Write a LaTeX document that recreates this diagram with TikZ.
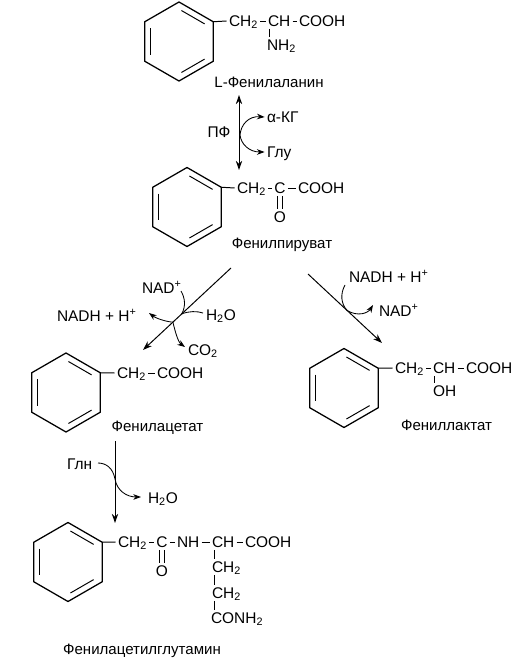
\documentclass[tikz,border=0pt]{standalone}
\usepackage{fontspec}
\setmainfont{Liberation Sans}
\usetikzlibrary{arrows.meta,positioning,shapes.geometric,calc}
\tikzset{
  bond/.style={line width=0.7pt},
  ring/.style={draw, regular polygon, regular polygon sides=6, shape border rotate=-30, minimum size=1.975cm, inner sep=0pt, outer sep=0pt, line width=0.9pt},
  chem/.style={inner sep=0pt, outer sep=1.7pt, anchor=west, xshift=-1.7pt, text height=7.9pt, text depth=0pt, font=\fontsize{11}{12}\selectfont},
  atom/.style={chem, anchor=center, xshift=1.7pt},
  caption/.style={inner sep=0pt, font=\fontsize{10.7}{12}\selectfont},
  rxn/.style={line width=0.7pt, -{Stealth[length=6.5pt,width=4.5pt]}},
  side/.style={line width=0.6pt, -{Stealth[length=5.5pt,width=4pt]}},
  sidein/.style={line width=0.6pt}
}
\newcommand{\phenyl}[2]{
  \node[ring] (#1) at (#2) {};
  \foreach \p/\q in {1/2,3/4,5/6}
    \draw[bond, shorten >=2pt, shorten <=2pt] ($(#1.center)!0.82!(#1.corner \p)$) -- ($(#1.center)!0.82!(#1.corner \q)$);
}
\newcommand{\chemsub}[1]{\textsubscript{#1}}
\begin{document}
\begin{tikzpicture}[x=0.025cm, y=-0.025cm]
  \useasboundingbox (0,0) rectangle (531,669);

  %% L-phenylalanine
  \phenyl{ringala}{179,41.5}
  \node[chem] (chtwoala) at (229,21) {CH\chemsub{2}};
  \node[chem] (chala) at (268,21) {CH};
  \node[chem] (coohala) at (299,21) {COOH};
  \node[chem] (nhala) at (267,45) {NH\chemsub{2}};
  \node[caption] (capala) at (269,82) {L-Фенилаланин};
  \draw[bond] (ringala.corner 1) -- (chtwoala.west);
  \draw[bond] (chtwoala.east) -- (chala.west);
  \draw[bond] (chala.east) -- (coohala.west);
  \draw[bond] ($(chala.south west)+(4,0)$) -- ($(nhala.north west)+(5,0)$);

  %% transamination
  \coordinate (ala) at (239,95);
  \coordinate (pyr) at (239,170);
  \coordinate (midala) at (240,135);
  \node[atom] (pf) at (219,132) {ПФ};
  \node[chem] (akg) at (267,117) {α-КГ};
  \node[chem] (glu) at (267,152) {Глу};
  \draw[rxn, {Stealth[length=6.5pt,width=4.5pt]}-{Stealth[length=6.5pt,width=4.5pt]}] (ala) -- (pyr);
  \draw[side] (midala) .. controls (241,124) and (249,116) .. (akg.west);
  \draw[side] (midala) .. controls (241,144) and (249,152) .. (glu.west);

  %% phenylpyruvate
  \phenyl{ringpyr}{187,207}
  \node[chem] (chtwopyr) at (237,188) {CH\chemsub{2}};
  \node[atom] (cpyr) at (280,188) {C};
  \node[chem] (coohpyr) at (298,188) {COOH};
  \node[atom] (opyr) at (280,217) {O};
  \node[caption] (cappyr) at (282,245) {Фенилпируват};
  \draw[bond] (ringpyr.corner 1) -- (chtwopyr.west);
  \draw[bond] (chtwopyr.east) -- (cpyr.west);
  \draw[bond] (cpyr.east) -- (coohpyr.west);
  \draw[bond, double, double distance=2.6pt, line width=0.6pt] (cpyr.south) -- (opyr.north);

  %% branch to phenylacetate
  \coordinate (leftstart) at (231,268);
  \coordinate (leftend) at (143,350);
  \coordinate (leftup) at ($(leftstart)!0.56!(leftend)$);
  \coordinate (leftdown) at ($(leftstart)!0.66!(leftend)$);
  \coordinate (leftnad) at (181,291);
  \coordinate (leftwater) at (203,313);
  \coordinate (leftnadh) at (149,313);
  \coordinate (leftco) at (185,347);
  \node[chem] (nadl) at (142,288) {NAD\textsuperscript{+}};
  \node[chem] (nadhl) at (57,316) {NADH + H\textsuperscript{+}};
  \node[chem] (waterl) at (206,315) {H\chemsub{2}O};
  \node[chem] (cotwo) at (188,350) {CO\chemsub{2}};
  \draw[rxn] (leftstart) -- (leftend);
  \draw[sidein] (leftnad) .. controls (185,298) and (186,306) .. (leftup);
  \draw[sidein] (leftwater) .. controls (197,311) and (189,311) .. (leftup);
  \draw[side] (leftdown) .. controls (168,322) and (157,319) .. (leftnadh);
  \draw[side] (leftdown) .. controls (175,331) and (178,342) .. (leftco);

  %% phenylacetate
  \phenyl{ringace}{66,392.5}
  \node[chem] (chtwoace) at (117,373) {CH\chemsub{2}};
  \node[chem] (coohace) at (157,373) {COOH};
  \node[caption] (capace) at (157.5,428) {Фенилацетат};
  \draw[bond] (ringace.corner 1) -- (chtwoace.west);
  \draw[bond] (chtwoace.east) -- (coohace.west);

  %% branch to phenyllactate
  \coordinate (rightstart) at (308,274);
  \coordinate (rightend) at (382,343);
  \coordinate (rightmid) at ($(rightstart)!0.53!(rightend)$);
  \coordinate (rightnadh) at (345,285);
  \coordinate (rightnad) at (373,305);
  \node[chem] (nadhr) at (349,277) {NADH + H\textsuperscript{+}};
  \node[chem] (nadr) at (379,311) {NAD\textsuperscript{+}};
  \draw[rxn] (rightstart) -- (rightend);
  \draw[sidein] (rightnadh) .. controls (340,294) and (341,304) .. (rightmid);
  \draw[side] (rightmid) .. controls (358,317) and (368,313) .. (rightnad);

  %% phenyllactate
  \phenyl{ringlac}{344,388}
  \node[chem] (chtwolac) at (395,368) {CH\chemsub{2}};
  \node[chem] (chlac) at (433,368) {CH};
  \node[chem] (coohlac) at (466,368) {COOH};
  \node[chem] (ohlac) at (433,391) {OH};
  \node[caption] (caplac) at (446.5,425) {Фениллактат};
  \draw[bond] (ringlac.corner 1) -- (chtwolac.west);
  \draw[bond] (chtwolac.east) -- (chlac.west);
  \draw[bond] (chlac.east) -- (coohlac.west);
  \draw[bond] ($(chlac.south west)+(4,0)$) -- ($(ohlac.north west)+(4,0)$);

  %% glutamine step
  \coordinate (glnstart) at (115,441);
  \coordinate (glnend) at (115,523);
  \coordinate (glnmid) at (115,479);
  \coordinate (glnin) at (98,463);
  \coordinate (glnout) at (141,497);
  \node[chem] (gln) at (67,464) {Глн};
  \node[chem] (waterb) at (148,498) {H\chemsub{2}O};
  \draw[rxn] (glnstart) -- (glnend);
  \draw[sidein] (glnin) .. controls (106,463) and (113,468) .. (glnmid);
  \draw[side] (glnmid) .. controls (117,491) and (127,497) .. (glnout);

  %% phenylacetylglutamine
  \phenyl{ringgln}{68,562}
  \node[chem] (chtwogln) at (118,542) {CH\chemsub{2}};
  \node[atom] (cgln) at (162,542) {C};
  \node[chem] (nhgln) at (177,542) {NH};
  \node[chem] (chgln) at (212,542) {CH};
  \node[chem] (coohgln) at (245,542) {COOH};
  \node[atom] (ogln) at (162,571) {O};
  \node[chem] (chtwob) at (212,567) {CH\chemsub{2}};
  \node[chem] (chtwoc) at (212,593) {CH\chemsub{2}};
  \node[chem] (conh) at (211,618) {CONH\chemsub{2}};
  \node[caption] (capgln) at (142,651) {Фенилацетилглутамин};
  \draw[bond] (ringgln.corner 1) -- (chtwogln.west);
  \draw[bond] (chtwogln.east) -- (cgln.west);
  \draw[bond] (cgln.east) -- (nhgln.west);
  \draw[bond] (nhgln.east) -- (chgln.west);
  \draw[bond] (chgln.east) -- (coohgln.west);
  \draw[bond, double, double distance=2.6pt, line width=0.6pt] (cgln.south) -- (ogln.north);
  \draw[bond] ($(chgln.south west)+(5,0)$) -- ($(chtwob.north west)+(5,0)$);
  \draw[bond] ($(chtwob.south west)+(5,0)$) -- ($(chtwoc.north west)+(5,0)$);
  \draw[bond] ($(chtwoc.south west)+(5,0)$) -- ($(conh.north west)+(6,0)$);
\end{tikzpicture}
\end{document}
